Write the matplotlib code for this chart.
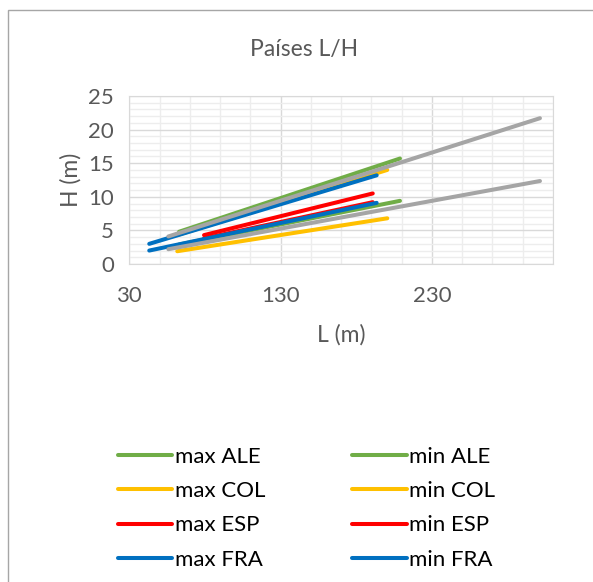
import matplotlib.pyplot as plt
from matplotlib.patches import Rectangle
from matplotlib.ticker import FixedLocator

plt.rcParams['font.family'] = ['Lato', 'DejaVu Sans']

# Datos (L en m, H en m)
L_ALE = [62.9, 208.9]
H_max_ALE = [4.8, 15.7]
H_min_ALE = [2.9, 9.4]
L_COL = [61.7, 200.5]
H_max_COL = [4.3, 14.0]
H_min_COL = [1.9, 6.8]
L_ESP = [79.4, 190.9]
H_max_ESP = [4.3, 10.5]
H_min_ESP = [3.8, 9.2]
L_FRA = [43.2, 193.5]
H_max_FRA = [3.0, 13.2]
H_min_FRA = [2.0, 9.1]
L_otro = [55.8, 301.4]
H_max_otro = [4.1, 21.7]
H_min_otro = [2.2, 12.35]

x_ticks = [30, 130, 230]
x_minor = list(range(30, 311, 20))

verde = '#70AD47'
amarillo = '#FFC000'
rojo = '#FF0000'
azul = '#0070C0'
gris = '#A5A5A5'
txt = '#595959'

fig = plt.figure(figsize=(5.93, 5.82), dpi=100)
ax = fig.add_axes([0.218, 0.5464, 0.7145, 0.2886])

lw = 2.9
kw = dict(lw=lw, solid_capstyle='round')
h1, = ax.plot(L_ALE, H_max_ALE, color=verde, label='max ALE', **kw)
h2, = ax.plot(L_ALE, H_min_ALE, color=verde, label='min ALE', **kw)
h3, = ax.plot(L_COL, H_max_COL, color=amarillo, label='max COL', **kw)
h4, = ax.plot(L_COL, H_min_COL, color=amarillo, label='min COL', **kw)
h5, = ax.plot(L_ESP, H_max_ESP, color=rojo, label='max ESP', **kw)
h6, = ax.plot(L_ESP, H_min_ESP, color=rojo, label='min ESP', **kw)
h7, = ax.plot(L_FRA, H_max_FRA, color=azul, label='max FRA', **kw)
h8, = ax.plot(L_FRA, H_min_FRA, color=azul, label='min FRA', **kw)
ax.plot(L_otro, H_max_otro, color=gris, **kw)
ax.plot(L_otro, H_min_otro, color=gris, **kw)

ax.set_xlim(30, 310)
ax.set_ylim(0, 25)
ax.xaxis.set_major_locator(FixedLocator(x_ticks))
ax.xaxis.set_minor_locator(FixedLocator(x_minor))
ax.set_yticks(range(0, 26, 5))
ax.set_yticks(range(0, 26), minor=True)
ax.grid(which='major', color='#D9D9D9', lw=1.0)
ax.grid(which='minor', color='#EDEDED', lw=1.0)
ax.set_axisbelow(True)
for s in ax.spines.values():
    s.set_color('#D9D9D9')
ax.tick_params(which='both', length=0, labelsize=16, labelcolor=txt)
ax.tick_params(axis='x', pad=16)
ax.tick_params(axis='y', pad=11)

fig.text(304 / 593, 1 - 56 / 582, 'Países L/H', fontsize=16.5, color=txt,
         ha='center', va='baseline')
ax.set_xlabel('L (m)', fontsize=16.5, color=txt, labelpad=13)
ax.set_ylabel('H (m)', fontsize=16.5, color=txt, labelpad=5)

fig.legend(handles=[h1, h3, h5, h7, h2, h4, h6, h8], ncol=2,
           loc='upper left', bbox_to_anchor=(118 / 593, 1 - 447 / 582),
           frameon=False, borderpad=0, borderaxespad=0,
           fontsize=16, handlelength=2.45, handletextpad=0.12,
           columnspacing=3.9, labelspacing=0.64)

fig.patches.append(Rectangle((8 / 593, -0.1), 1.2, 1 - 10 / 582 + 0.1,
                             transform=fig.transFigure, fill=False,
                             edgecolor='#A6A6A6', lw=1.0))

fig.savefig('out.png', dpi=100)
